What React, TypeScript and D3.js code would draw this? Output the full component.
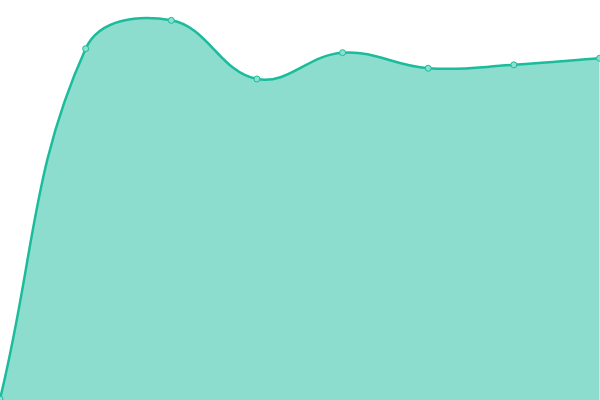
import React from "react";
import * as d3 from "d3";

const labels = ["1", "2", "3", "4", "5", "6", "7", "8"];
const values = [0, 87.8, 94.9, 80.2, 86.8, 82.9, 83.75, 85.4];

const W = 600;
const H = 400;
const TENSION = 0.4;

function splinePath(pts: [number, number][], y0: number | null) {
  const p = d3.path();
  const n = pts.length;
  const cps: { px: number; py: number; nx: number; ny: number }[] = pts.map((cur, i) => {
    const prev = pts[Math.max(0, i - 1)];
    const next = pts[Math.min(n - 1, i + 1)];
    const d01 = Math.hypot(cur[0] - prev[0], cur[1] - prev[1]);
    const d12 = Math.hypot(next[0] - cur[0], next[1] - cur[1]);
    let s01 = d01 / (d01 + d12);
    let s12 = d12 / (d01 + d12);
    if (!isFinite(s01)) s01 = 0;
    if (!isFinite(s12)) s12 = 0;
    const fa = TENSION * s01;
    const fb = TENSION * s12;
    const cap = (v: number, lo: number, hi: number) => Math.max(lo, Math.min(hi, v));
    return {
      px: cap(cur[0] - fa * (next[0] - prev[0]), 0, W),
      py: cap(cur[1] - fa * (next[1] - prev[1]), 0, H),
      nx: cap(cur[0] + fb * (next[0] - prev[0]), 0, W),
      ny: cap(cur[1] + fb * (next[1] - prev[1]), 0, H),
    };
  });
  p.moveTo(pts[0][0], pts[0][1]);
  for (let i = 1; i < n; i++) {
    p.bezierCurveTo(cps[i - 1].nx, cps[i - 1].ny, cps[i].px, cps[i].py, pts[i][0], pts[i][1]);
  }
  if (y0 !== null) {
    p.lineTo(pts[n - 1][0], y0);
    p.lineTo(pts[0][0], y0);
    p.closePath();
  }
  return p.toString();
}

export default function App() {
  const x = d3.scalePoint<string>().domain(labels).range([0, W - 0.5]);
  const y = d3.scaleLinear().domain([0, 100]).range([H - 1, 0]);
  const pts: [number, number][] = labels.map((l, i) => [x(l) as number, y(values[i])]);

  return (
    <svg
      width={W}
      height={H}
      style={{ position: "fixed", left: 0, top: 0, display: "block", background: "#fff" }}
    >
      <path d={splinePath(pts, H)} fill="rgba(26,188,156,0.5)" stroke="none" />
      <path d={splinePath(pts, null)} fill="none" stroke="#1abc9c" strokeWidth={2.5} />
      {pts.map((pt, i) => (
        <circle
          key={i}
          cx={pt[0]}
          cy={pt[1]}
          r={3}
          fill="#8be0cf"
          stroke="#1abc9c"
          strokeWidth={1}
        />
      ))}
    </svg>
  );
}
